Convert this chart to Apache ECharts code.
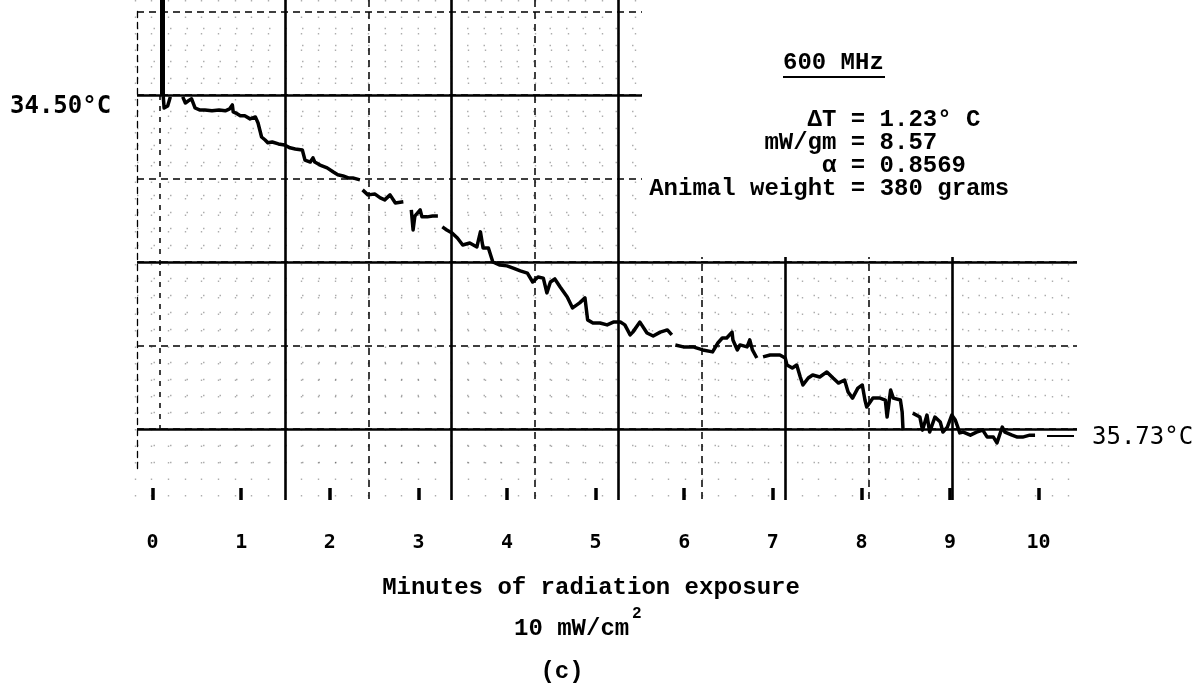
<!doctype html>
<html>
<head>
    <meta charset="utf-8">
    <title>600 MHz recording</title>
    <script src="https://cdn.jsdelivr.net/npm/echarts@6/dist/echarts.min.js"></script>
</head>
<style>
    html, body { margin: 0; padding: 0; background: #fff; }
    #chart { width: 1199px; height: 687px; }
</style>
<body>
<div id="chart"></div>
<script>
  // recorder trace (minutes, deg C); null = pen gap
  var traceMinutes = [
    0.12, 0.13, 0.15, 0.17, 0.19, 0.20, 0.27, 0.34, 0.37, 0.40, 0.44, 0.48, 0.53, 0.59, 0.67, 0.75,
    0.82, 0.87, 0.90, 0.91, 0.94, 0.99, 1.04, 1.10, 1.16, 1.18, 1.19, 1.21, 1.23, 1.27, 1.30, 1.35,
    1.42, 1.49, 1.55, 1.61, 1.69, 1.72, 1.78, 1.81, 1.83, 1.89, 1.97, 2.04, 2.09, 2.15, 2.21, 2.26,
    2.34, 2.355, 2.37, 2.43, 2.51, 2.57, 2.62, 2.68, 2.74, 2.83, 2.87, 2.92, 2.94, 2.96, 3.02, 3.04,
    3.10, 3.16, 3.22, 3.245, 3.27, 3.32, 3.38, 3.44, 3.50, 3.58, 3.66, 3.70, 3.73, 3.79, 3.84, 3.92,
    4.00, 4.07, 4.15, 4.23, 4.29, 4.35, 4.41, 4.45, 4.49, 4.54, 4.60, 4.68, 4.74, 4.82, 4.88, 4.91,
    4.97, 5.05, 5.13, 5.20, 5.28, 5.33, 5.39, 5.42, 5.50, 5.58, 5.65, 5.73, 5.81, 5.86, 5.88, 5.90,
    5.99, 6.10, 6.21, 6.32, 6.38, 6.43, 6.48, 6.54, 6.55, 6.60, 6.63, 6.71, 6.74, 6.77, 6.82, 6.85,
    6.89, 6.97, 7.08, 7.14, 7.16, 7.22, 7.27, 7.31, 7.34, 7.40, 7.45, 7.53, 7.61, 7.68, 7.74, 7.81,
    7.85, 7.90, 7.96, 8.01, 8.04, 8.06, 8.13, 8.21, 8.27, 8.29, 8.33, 8.36, 8.44, 8.46, 8.47, 8.52,
    8.58, 8.66, 8.69, 8.74, 8.77, 8.83, 8.89, 8.92, 8.97, 9.02, 9.06, 9.08, 9.11, 9.15, 9.23, 9.30,
    9.37, 9.42, 9.49, 9.53, 9.59, 9.62, 9.70, 9.76, 9.82, 9.90, 9.96
  ];
  var traceTemp = [
    34.504, 34.547, 34.543, 34.540, 34.518, 34.507, null, 34.507, 34.529, 34.522, 34.514, 34.547, 34.554, 34.554, 34.557, 34.554,
    34.557, 34.550, 34.536, 34.561, 34.565, 34.575, 34.575, 34.586, 34.579, 34.572, 34.601, 34.626, 34.651, 34.662, 34.672, 34.669,
    34.676, 34.680, 34.690, 34.694, 34.698, 34.734, 34.741, 34.726, 34.741, 34.752, 34.762, 34.777, 34.787, 34.791, 34.798, 34.798,
    34.805, null, 34.841, 34.859, 34.856, 34.870, 34.877, 34.859, 34.888, 34.884, null, 34.913, 34.985, 34.935, 34.913, 34.938,
    34.938, 34.935, 34.935, null, 34.974, 34.985, 34.996, 35.014, 35.039, 35.032, 35.046, 34.992, 35.050, 35.050, 35.100, 35.111,
    35.114, 35.122, 35.132, 35.140, 35.172, 35.154, 35.158, 35.211, 35.172, 35.161, 35.190, 35.226, 35.265, 35.247, 35.229, 35.308,
    35.319, 35.319, 35.326, 35.316, 35.316, 35.326, 35.362, 35.352, 35.316, 35.355, 35.366, 35.352, 35.344, 35.362, null, 35.398,
    35.405, 35.405, 35.416, 35.423, 35.391, 35.373, 35.373, 35.352, 35.380, 35.416, 35.398, 35.405, 35.380, 35.416, 35.445, null,
    35.441, 35.434, 35.434, 35.445, 35.470, 35.481, 35.470, 35.513, 35.542, 35.517, 35.506, 35.513, 35.495, 35.517, 35.535, 35.524,
    35.567, 35.589, 35.553, 35.542, 35.596, 35.621, 35.589, 35.589, 35.596, 35.657, 35.560, 35.589, 35.596, 35.639, 35.704, null,
    35.643, 35.657, 35.704, 35.650, 35.711, 35.657, 35.675, 35.711, 35.693, 35.650, 35.668, 35.686, 35.714, 35.711, 35.722, 35.711,
    35.704, 35.729, 35.729, 35.750, 35.693, 35.711, 35.722, 35.729, 35.729, 35.722, 35.722
  ];

  var startTemp = 34.50;
  var endTemp = 35.73;
  var exposureStart = 0.11;   // pen mark where exposure begins

  var noteTitle = '600 MHz';
  var noteLines = ['ΔT = 1.23° C', 'mW/gm = 8.57', 'α = 0.8569', 'Animal weight = 380 grams'];
  var xTitle = 'Minutes of radiation exposure';
  var xSubtitle = '10 mW/cm';
  var panelLabel = '(c)';

  var typeFont = 'bold 24px "Liberation Mono", "DejaVu Sans Mono", monospace';
  var numFont = '24px "DejaVu Sans Mono", monospace';

  var chart = echarts.init(document.getElementById('chart'));

  var points = traceMinutes.map(function (t, i) {
    return [t, traceTemp[i]];
  });

  function txt(s, x, y, font, align) {
    return {
      type: 'text', x: x, y: y, z: 5,
      style: {
        text: s, font: font, fill: '#000',
        textAlign: align || 'left', align: align || 'left',
        textVerticalAlign: 'middle', verticalAlign: 'middle'
      }
    };
  }

  var graphics = [
    // cut-away corner of the chart paper where the notes are typed
    { type: 'rect', z: 1, shape: { x: 642, y: 0, width: 557, height: 257 }, style: { fill: '#fff' } },
    txt(noteTitle, 783, 63, typeFont),
    { type: 'line', z: 5, shape: { x1: 783, y1: 77, x2: 885, y2: 77 }, style: { stroke: '#000', lineWidth: 2 } },
    txt(startTemp.toFixed(2) + '°C', 10, 107, 'bold ' + numFont),
    { type: 'line', z: 5, shape: { x1: 1047, y1: 436, x2: 1074, y2: 436 }, style: { stroke: '#000', lineWidth: 2 } },
    txt(endTemp.toFixed(2) + '°C', 1092, 438, numFont),
    txt(xTitle, 591, 588, typeFont, 'center'),
    txt(xSubtitle, 514, 629, typeFont),
    txt('2', 632, 614, 'bold 16px "Liberation Mono", monospace'),
    txt(panelLabel, 562, 672, typeFont, 'center')
  ];
  noteLines.forEach(function (s, i) {
    var eq = s.indexOf('=');
    graphics.push(txt(s, 858 - (eq + 0.5) * 14.4, 120 + i * 23, typeFont));
  });

  var heavy = { color: '#000', width: 2.6 };
  var dashed = { color: '#000', width: 1.5, type: [7, 5] };
  var dots = { color: 'rgba(0,0,0,0.32)', width: 1.4, type: [1.5, 15] };
  var off = { axisLine: { show: false }, axisTick: { show: false }, axisLabel: { show: false } };

  function paperAxis(grid, max, interval, style, extra) {
    return Object.assign({
      gridIndex: grid, type: 'value', min: 0, max: max, interval: interval,
      splitLine: { show: true, showMinLine: true, showMaxLine: false, lineStyle: style }
    }, off, extra || {});
  }

  var option = {
    animation: false,
    backgroundColor: '#fff',
    grid: [
      { left: 152.6, top: 0, width: 886, height: 500 },        // data
      { left: 118.2, top: 0, width: 958.8, height: 500 },      // paper verticals (heavy + dots)
      { left: 137, top: 11.5, width: 940, height: 459.25 },    // paper horizontals (light)
      { left: 137, top: 95, width: 940, height: 375.75 },      // paper horizontals (heavy)
      { left: 368.4, top: 0, width: 631.6, height: 500 }       // paper verticals (dashed)
    ],
    xAxis: [
      {
        gridIndex: 0, type: 'value', min: 0, max: 10, interval: 1,
        axisLine: { show: false },
        axisTick: { show: true, inside: true, length: 12, lineStyle: { color: '#000', width: 3.5 } },
        axisLabel: { margin: 33, color: '#000', fontFamily: 'DejaVu Sans Mono', fontSize: 20, fontWeight: 'bold' },
        splitLine: { show: false }
      },
      paperAxis(1, 11.5, 1, dots, {
        position: 'bottom',
        splitLine: { show: true, showMinLine: false, showMaxLine: false, lineStyle: dots },
        minorTick: { show: false, splitNumber: 5 },
        minorSplitLine: { show: true, lineStyle: dots }
      }),
      paperAxis(1, 11.5, 2, heavy, {
        position: 'top',
        splitLine: { show: true, showMinLine: false, showMaxLine: false, lineStyle: heavy }
      }),
      { gridIndex: 2, type: 'value', min: 0, max: 1, show: false },
      { gridIndex: 3, type: 'value', min: 0, max: 1, show: false },
      paperAxis(4, 7.573, 2, dashed)
    ],
    yAxis: [
      { gridIndex: 0, type: 'value', inverse: true, min: 34.159, max: 35.955, show: false },
      { gridIndex: 1, type: 'value', min: 0, max: 1, show: false },
      paperAxis(2, 5.5, 1, dashed, {
        inverse: true, position: 'left',
        axisLine: { show: true, lineStyle: { color: '#000', width: 1.3, type: [6, 5] } },
        minorTick: { show: false, splitNumber: 5 },
        minorSplitLine: { show: true, lineStyle: dots }
      }),
      paperAxis(3, 4.5, 2, heavy, { inverse: true, position: 'left' }),
      { gridIndex: 4, type: 'value', min: 0, max: 1, show: false }
    ],
    graphic: { elements: graphics },
    series: [
      {
        name: 'Colonic temperature',
        type: 'line',
        xAxisIndex: 0,
        yAxisIndex: 0,
        data: points,
        showSymbol: false,
        symbol: 'none',
        connectNulls: false,
        z: 10,
        lineStyle: { color: '#000', width: 3.5, join: 'round' },
        markLine: {
          silent: true,
          symbol: 'none',
          label: { show: false },
          data: [
            [{ coord: [exposureStart, 34.159], lineStyle: { color: '#000', width: 5, type: 'solid' } },
             { coord: [exposureStart, startTemp] }],
            [{ coord: [exposureStart - 0.03, startTemp], lineStyle: { color: '#000', width: 1.5, type: [5, 6] } },
             { coord: [exposureStart - 0.03, 35.70] }]
          ]
        }
      }
    ]
  };

  chart.setOption(option);
</script>
</body>
</html>
